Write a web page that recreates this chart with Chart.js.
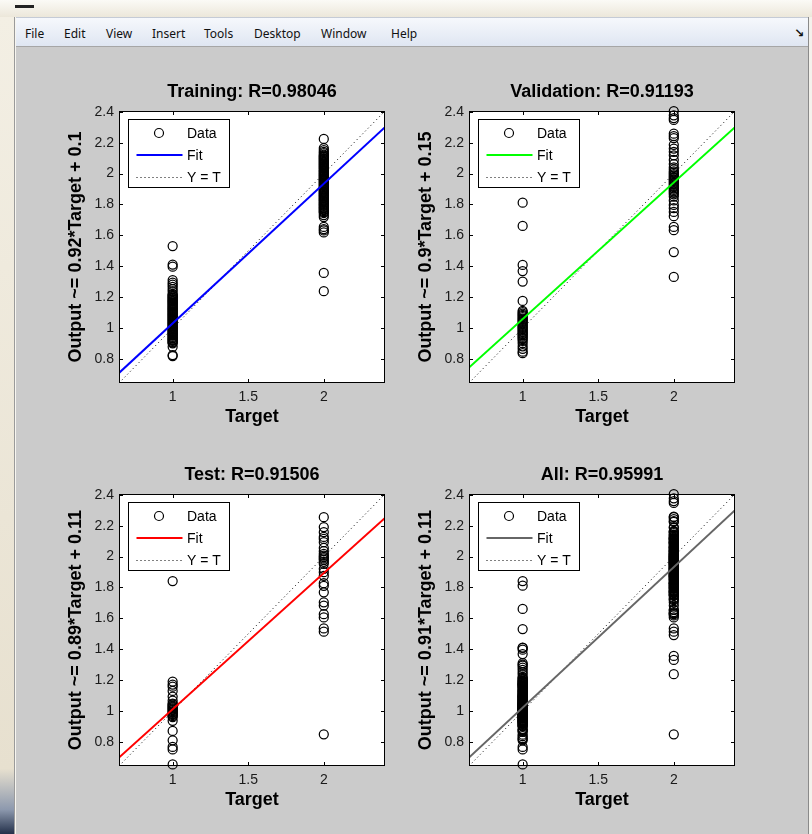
<!DOCTYPE html>
<html lang="en">
<head>
    <meta charset="UTF-8">
    <title>Regression plots</title>
    <script src="https://cdn.jsdelivr.net/npm/chart.js@4"></script>
    <style>
        body { margin: 0; width: 812px; height: 834px; position: relative; overflow: hidden; background: #f7f5ef; font-family: "Noto Sans", "DejaVu Sans", sans-serif; }
        #frameTop { position: absolute; left: 0; top: 0; width: 812px; height: 17px; background: linear-gradient(#fbfaf6, #ece7da); }
        #frameDash { position: absolute; left: 15px; top: 5px; width: 19px; height: 3px; background: #222; }
        #frameLeft { position: absolute; left: 0; top: 17px; width: 15px; height: 817px; background: linear-gradient(#f3efe4, #e7e0cf 92%, #8d99ae 97%, #23304a); }
        #frameLeft::after { content: ""; position: absolute; right: 0; top: 0; width: 1px; height: 100%; background: #9a9a9a; }
        #frameRight { position: absolute; left: 808px; top: 17px; width: 4px; height: 817px; background: #f4f2ec; border-left: 1px solid #8a8a8a; }
        #menubar { position: absolute; left: 16px; top: 17px; width: 792px; height: 28px; background: linear-gradient(#f6f8fc, #dfe6f2); border-top: 1px solid #c5cbd6; border-bottom: 1px solid #a6a6a6; }
        .menu { position: absolute; top: 7px; font-size: 12px; color: #111; }
        #menuArrow { position: absolute; right: 4px; top: 6px; font-size: 12px; font-weight: bold; color: #111; }
        #figure { position: absolute; left: 16px; top: 47px; width: 792px; height: 787px; background: #cbcbcb; }
        .panel { position: absolute; width: 340px; height: 350px; }
    </style>
</head>
<body>
    <div id="frameTop"></div>
    <div id="frameDash"></div>
    <div id="frameLeft"></div>
    <div id="frameRight"></div>
    <div id="menubar">
        <span class="menu" style="left:9px">File</span>
        <span class="menu" style="left:48px">Edit</span>
        <span class="menu" style="left:90px">View</span>
        <span class="menu" style="left:136px">Insert</span>
        <span class="menu" style="left:188px">Tools</span>
        <span class="menu" style="left:238px">Desktop</span>
        <span class="menu" style="left:305px">Window</span>
        <span class="menu" style="left:375px">Help</span>
        <span id="menuArrow">&#8600;</span>
    </div>
    <div id="figure"></div>

    <div class="panel" style="left:60px; top:78px"><canvas id="trainChart"></canvas></div>
    <div class="panel" style="left:410px; top:78px"><canvas id="valChart"></canvas></div>
    <div class="panel" style="left:60px; top:461px"><canvas id="testChart"></canvas></div>
    <div class="panel" style="left:410px; top:461px"><canvas id="allChart"></canvas></div>

    <script>
        // axis limits shared by all four plots (same for x and y)
        const axisLimits = [0.645, 2.405];
        const xTicks = [1, 1.5, 2];
        const xTickLabels = ['1', '1.5', '2'];
        const yTicks = [0.8, 1, 1.2, 1.4, 1.6, 1.8, 2, 2.2, 2.4];
        const yTickLabels = ['0.8', '1', '1.2', '1.4', '1.6', '1.8', '2', '2.2', '2.4'];
        const targets = [1, 2];
        const legendLabels = ['Data', 'Fit', 'Y = T'];

        // outputs, grouped by target class
        const trainOut1 = [1.531, 1.411, 1.398, 1.311, 1.294, 1.281, 1.267, 1.252, 1.238,
            1.221, 1.216, 1.209, 1.204, 1.198, 1.193, 1.187, 1.181, 1.176, 1.171, 1.165, 1.159, 1.154,
            1.148, 1.142, 1.137, 1.131, 1.126, 1.12, 1.115, 1.109, 1.104, 1.098, 1.092, 1.087, 1.082,
            1.076, 1.07, 1.065, 1.059, 1.054, 1.048, 1.043, 1.037, 1.031, 1.026, 1.021, 1.015, 1.009,
            1.004, 0.998, 0.993, 0.988, 0.982, 0.977, 0.971, 0.966, 0.96, 0.955, 0.951, 0.944, 0.938,
            0.934, 0.927, 0.923, 0.918, 0.911, 0.907, 0.902, 0.879, 0.826, 0.819];
        const trainOut2 = [2.224, 2.165, 2.152, 2.141, 2.133,
            2.123, 2.117, 2.111, 2.106, 2.1, 2.094, 2.088, 2.083, 2.076, 2.071, 2.065, 2.059, 2.054,
            2.047, 2.042, 2.036, 2.031, 2.024, 2.018, 2.013, 2.007, 2.001, 1.995, 1.99, 1.984, 1.978,
            1.972, 1.967, 1.96, 1.955, 1.949, 1.943, 1.938, 1.931, 1.926, 1.92, 1.914, 1.909, 1.902,
            1.897, 1.891, 1.885, 1.88, 1.873, 1.868, 1.862, 1.856, 1.851, 1.844, 1.839, 1.833, 1.827,
            1.822, 1.815, 1.81, 1.804, 1.798, 1.793, 1.786, 1.781, 1.775, 1.769, 1.763, 1.757, 1.751,
            1.745, 1.732, 1.719, 1.655, 1.641, 1.632, 1.619, 1.357, 1.239];

        const valOut1 = [1.812, 1.661, 1.409, 1.369, 1.301, 1.176, 1.112, 1.103, 1.094, 1.086, 1.079,
            1.071, 1.062, 1.055, 1.047, 1.04, 1.031, 1.024, 1.016, 1.008, 1.001, 0.993, 0.985, 0.977,
            0.969, 0.962, 0.954, 0.946, 0.937, 0.929, 0.918, 0.903, 0.882, 0.866, 0.848, 0.838];
        const valOut2 = [2.405, 2.377, 2.359, 2.347, 2.258, 2.243, 2.229, 2.186, 2.162, 2.141, 2.118,
            2.088, 2.062, 2.041, 2.028, 2.015, 2.006, 1.997, 1.988, 1.979, 1.971, 1.963, 1.954, 1.946,
            1.937, 1.929, 1.92, 1.912, 1.903, 1.894, 1.885, 1.876, 1.866, 1.851, 1.826, 1.797, 1.776,
            1.752, 1.724, 1.655, 1.634, 1.492, 1.331];

        const testOut1 = [1.842, 1.191, 1.172, 1.158, 1.131, 1.094, 1.068, 1.049, 1.043, 1.036, 1.03,
            1.024, 1.018, 1.012, 1.006, 1.0, 0.994, 0.988, 0.981, 0.975, 0.968, 0.961, 0.937, 0.872,
            0.811, 0.768, 0.752, 0.655];
        const testOut2 = [2.255, 2.191, 2.158, 2.127, 2.114, 2.093, 2.056, 2.035, 2.018, 2.006, 1.997,
            1.988, 1.979, 1.966, 1.953, 1.921, 1.899, 1.876, 1.828, 1.811, 1.769, 1.704, 1.683, 1.627,
            1.606, 1.535, 1.514, 0.85];

        // "All" is just every sample together
        const allOut1 = [...trainOut1, ...valOut1, ...testOut1];
        const allOut2 = [...trainOut2, ...valOut2, ...testOut2];

        // fit line values at the left and right axis limits
        const trainFit = [0.71, 2.30];
        const valFit = [0.745, 2.30];
        const testFit = [0.70, 2.25];
        const allFit = [0.70, 2.30];

        Chart.defaults.font.family = '"Liberation Sans", Arial, sans-serif';
        Chart.defaults.color = '#1a1a1a';

        // white axes background, inward ticks on all four sides, box, legend
        const matlabAxes = {
            id: 'matlabAxes',
            beforeDraw(chart) {
                const a = chart.chartArea;
                const ctx = chart.ctx;
                ctx.save();
                ctx.fillStyle = '#ffffff';
                ctx.fillRect(a.left, a.top, a.right - a.left, a.bottom - a.top);
                ctx.restore();
            },
            afterDatasetsDraw(chart) {
                const a = chart.chartArea;
                const ctx = chart.ctx;
                const tl = 4;
                ctx.save();
                ctx.strokeStyle = '#000';
                ctx.lineWidth = 1;
                ctx.beginPath();
                chart.scales.x.ticks.forEach(t => {
                    const px = Math.round(chart.scales.x.getPixelForValue(t.value)) + 0.5;
                    ctx.moveTo(px, a.bottom); ctx.lineTo(px, a.bottom - tl);
                    ctx.moveTo(px, a.top); ctx.lineTo(px, a.top + tl);
                });
                chart.scales.y.ticks.forEach(t => {
                    const py = Math.round(chart.scales.y.getPixelForValue(t.value)) + 0.5;
                    ctx.moveTo(a.left, py); ctx.lineTo(a.left + tl, py);
                    ctx.moveTo(a.right, py); ctx.lineTo(a.right - tl, py);
                });
                ctx.stroke();
                ctx.strokeRect(a.left + 0.5, a.top + 0.5, a.right - a.left - 1, a.bottom - a.top - 1);
                ctx.restore();
            },
            afterDraw(chart, args, opts) {
                const a = chart.chartArea;
                const ctx = chart.ctx;
                const x0 = a.left + 9, y0 = a.top + 8, w = 102, h = 69;
                ctx.save();
                ctx.fillStyle = '#fff';
                ctx.fillRect(x0, y0, w, h);
                ctx.strokeStyle = '#000';
                ctx.lineWidth = 1;
                ctx.strokeRect(x0 + 0.5, y0 + 0.5, w - 1, h - 1);

                const rows = [y0 + 14, y0 + 36, y0 + 58];
                ctx.lineWidth = 1.2;
                ctx.beginPath();
                ctx.arc(x0 + 31, rows[0], 4.5, 0, Math.PI * 2);
                ctx.stroke();

                ctx.strokeStyle = opts.color;
                ctx.lineWidth = 2;
                ctx.beginPath();
                ctx.moveTo(x0 + 8.5, rows[1]); ctx.lineTo(x0 + 54.5, rows[1]);
                ctx.stroke();

                ctx.strokeStyle = '#000';
                ctx.lineWidth = 1;
                ctx.setLineDash([1, 3]);
                ctx.beginPath();
                ctx.moveTo(x0 + 8.5, rows[2] + 0.5); ctx.lineTo(x0 + 54.5, rows[2] + 0.5);
                ctx.stroke();
                ctx.setLineDash([]);

                ctx.fillStyle = '#000';
                ctx.font = '14px "Liberation Sans", Arial, sans-serif';
                ctx.textBaseline = 'middle';
                legendLabels.forEach((txt, i) => ctx.fillText(txt, x0 + 59, rows[i] + 1));
                ctx.restore();
            }
        };

        function makePanel(canvasId, title, yLabel, color, out1, out2, fit) {
            const pts = [
                ...out1.map(v => ({ x: targets[0], y: v })),
                ...out2.map(v => ({ x: targets[1], y: v }))
            ];
            new Chart(document.getElementById(canvasId), {
                type: 'scatter',
                data: {
                    datasets: [
                        {
                            label: legendLabels[1],
                            data: [{ x: axisLimits[0], y: fit[0] }, { x: axisLimits[1], y: fit[1] }],
                            showLine: true,
                            borderColor: color,
                            borderWidth: 2,
                            pointRadius: 0,
                            order: 0
                        },
                        {
                            label: legendLabels[2],
                            data: [{ x: axisLimits[0], y: axisLimits[0] }, { x: axisLimits[1], y: axisLimits[1] }],
                            showLine: true,
                            borderColor: '#000',
                            borderWidth: 1,
                            borderDash: [1, 3],
                            pointRadius: 0,
                            order: 1
                        },
                        {
                            label: legendLabels[0],
                            data: pts,
                            pointStyle: 'circle',
                            pointRadius: 4.5,
                            pointBorderWidth: 1.25,
                            pointBorderColor: '#000',
                            pointBackgroundColor: 'rgba(0,0,0,0)',
                            clip: false,
                            order: 2
                        }
                    ]
                },
                options: {
                    responsive: true,
                    maintainAspectRatio: false,
                    animation: false,
                    events: [],
                    layout: { padding: { top: 0, left: 0, right: 15, bottom: 0 } },
                    plugins: {
                        legend: { display: false },
                        tooltip: { enabled: false },
                        title: {
                            display: true,
                            text: title,
                            fullSize: false,
                            color: '#000',
                            font: { size: 18, weight: 'bold' },
                            padding: { top: 3, bottom: 8.4 }
                        },
                        matlabAxes: { color: color }
                    },
                    scales: {
                        x: {
                            type: 'linear',
                            min: axisLimits[0],
                            max: axisLimits[1],
                            afterBuildTicks: s => { s.ticks = xTicks.map(v => ({ value: v })); },
                            afterFit: s => { s.height = 45; },
                            grid: { display: false, drawTicks: false },
                            border: { display: false },
                            ticks: {
                                padding: 6,
                                autoSkip: false,
                                maxRotation: 0,
                                color: '#1a1a1a',
                                font: { size: 14 },
                                callback: (v, i) => xTickLabels[i]
                            },
                            title: {
                                display: true,
                                text: 'Target',
                                color: '#000',
                                font: { size: 18, weight: 'bold' },
                                padding: { top: 0, bottom: 0.5 }
                            }
                        },
                        y: {
                            type: 'linear',
                            min: axisLimits[0],
                            max: axisLimits[1],
                            afterBuildTicks: s => { s.ticks = yTicks.map(v => ({ value: v })); },
                            afterFit: s => { s.width = 59; },
                            grid: { display: false, drawTicks: false },
                            border: { display: false },
                            ticks: {
                                padding: 5,
                                autoSkip: false,
                                color: '#1a1a1a',
                                font: { size: 14 },
                                callback: (v, i) => yTickLabels[i]
                            },
                            title: {
                                display: true,
                                text: yLabel,
                                color: '#000',
                                font: { size: 18, weight: 'bold' },
                                padding: { top: 5, bottom: 0 }
                            }
                        }
                    }
                },
                plugins: [matlabAxes]
            });
        }

        makePanel('trainChart', 'Training: R=0.98046', 'Output ~= 0.92*Target + 0.1', '#0000ff', trainOut1, trainOut2, trainFit);
        makePanel('valChart', 'Validation: R=0.91193', 'Output ~= 0.9*Target + 0.15', '#00ff00', valOut1, valOut2, valFit);
        makePanel('testChart', 'Test: R=0.91506', 'Output ~= 0.89*Target + 0.11', '#ff0000', testOut1, testOut2, testFit);
        makePanel('allChart', 'All: R=0.95991', 'Output ~= 0.91*Target + 0.11', '#666666', allOut1, allOut2, allFit);
    </script>
</body>
</html>
